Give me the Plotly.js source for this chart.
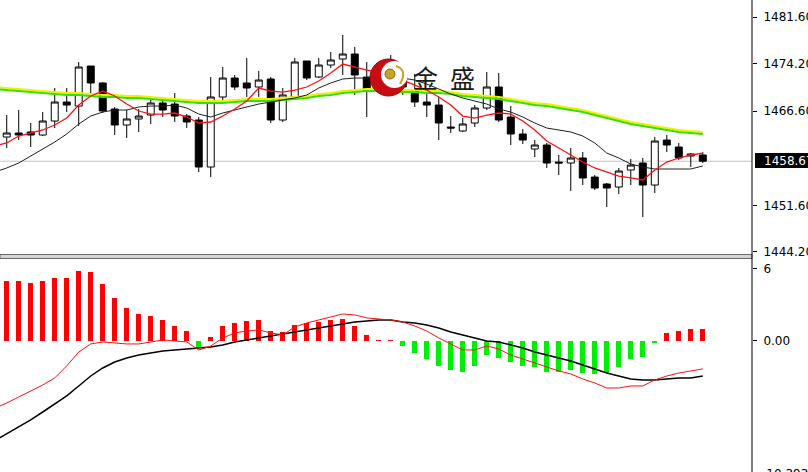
<!DOCTYPE html>
<html>
<head>
<meta charset="utf-8">
<script src="https://cdn.plot.ly/plotly-3.0.1.min.js"></script>
<style>html,body{margin:0;padding:0;background:#fff;}#chart{width:808px;height:472px;}</style>
</head>
<body>
<div id="chart"></div>
<script>
// ---- price candles ----
const open = [1462.50,1463.14,1463.30,1462.82,1465.05,1468.07,1467.43,1473.80,1471.10,1466.96,
  1464.41,1465.37,1466.00,1467.91,1467.75,1465.84,1465.21,1457.73,1468.87,1471.89,
  1471.10,1470.46,1471.73,1465.21,1468.87,1474.60,1472.05,1473.96,1474.92,1475.71,
  1472.05,1470.78,1472.85,1471.57,1469.82,1468.07,1467.59,1464.09,1463.46,1464.73,
  1467.12,1470.46,1465.68,1462.98,1460.59,1461.23,1458.52,1458.36,1459.16,1456.13,
  1455.02,1454.54,1457.25,1458.36,1454.86,1462.02,1460.91,1459.48,1459.64];
const high = [1466.00,1466.80,1464.73,1466.48,1470.30,1470.30,1474.44,1473.80,1471.25,1467.28,
  1466.80,1466.96,1468.87,1468.39,1469.50,1466.16,1465.68,1472.05,1473.64,1472.37,
  1475.07,1473.01,1472.05,1470.30,1475.07,1474.60,1475.07,1476.03,1478.74,1476.83,
  1474.44,1473.16,1475.55,1472.69,1472.53,1469.66,1468.87,1465.84,1465.52,1467.59,
  1472.85,1472.69,1467.43,1463.77,1462.02,1461.55,1459.64,1460.75,1460.11,1456.45,
  1455.18,1457.57,1459.00,1459.16,1462.50,1462.82,1461.55,1459.95,1460.11];
const low = [1460.75,1462.02,1460.91,1462.66,1463.93,1466.48,1464.25,1469.50,1466.32,1462.82,
  1462.34,1463.30,1464.57,1465.68,1464.89,1463.93,1456.93,1456.13,1467.91,1469.98,
  1468.87,1468.87,1464.73,1464.89,1468.71,1471.57,1471.89,1473.48,1472.37,1469.19,
  1465.68,1469.82,1469.98,1469.19,1467.28,1465.68,1462.02,1463.14,1463.30,1464.09,
  1466.80,1464.89,1461.23,1461.39,1459.32,1457.57,1456.45,1453.91,1454.86,1454.07,
  1451.36,1453.43,1454.86,1449.77,1453.59,1460.11,1458.84,1457.73,1458.36];
const close = [1463.14,1462.82,1462.82,1465.05,1468.07,1467.59,1473.64,1471.10,1466.64,1464.41,
  1465.37,1465.84,1467.91,1466.80,1465.84,1464.89,1457.73,1468.87,1471.89,1470.46,
  1470.30,1471.57,1465.21,1469.19,1474.44,1471.89,1473.96,1474.76,1475.71,1472.37,
  1469.98,1472.37,1471.25,1470.46,1468.07,1467.59,1464.73,1463.93,1464.57,1467.12,
  1470.46,1465.21,1462.98,1462.02,1461.23,1458.36,1458.36,1459.16,1455.98,1454.38,
  1454.38,1457.09,1458.04,1454.86,1461.86,1461.23,1459.16,1459.80,1458.65];

// ---- moving averages (first value = bar just off the left edge) ----
const maRed = [1461.10,1461.55,1462.66,1463.14,1463.62,1464.41,1465.52,1467.59,1469.03,1469.82,1469.03,
  1467.75,1466.64,1466.16,1466.16,1466.32,1465.68,1464.73,1464.89,1465.84,1466.96,
  1468.23,1470.30,1469.82,1469.66,1469.98,1470.46,1471.41,1472.69,1474.12,1473.64,
  1473.16,1472.85,1472.37,1471.57,1470.78,1469.98,1468.87,1467.59,1465.84,1465.52,
  1466.00,1466.32,1466.16,1465.05,1463.62,1461.86,1460.75,1459.64,1458.52,1457.57,
  1456.93,1456.29,1455.98,1455.66,1457.25,1458.52,1459.16,1459.64,1459.95];
const maBlack = [1456.93,1457.57,1458.36,1459.48,1460.59,1461.70,1462.98,1464.57,1465.84,1466.48,1466.80,
  1466.80,1467.28,1467.43,1467.43,1467.59,1467.12,1466.16,1465.68,1466.32,1466.80,
  1467.28,1467.75,1468.07,1468.39,1468.71,1469.19,1470.30,1471.10,1471.73,1471.89,
  1471.89,1472.05,1472.05,1471.89,1471.57,1470.94,1470.14,1469.34,1468.71,1468.23,
  1467.75,1466.96,1466.48,1465.68,1464.73,1463.93,1463.62,1463.30,1462.66,1461.55,
  1459.95,1459.16,1458.20,1457.73,1457.41,1457.41,1457.41,1457.41,1457.89];
const maGreen = [1470.14,1469.98,1469.82,1469.66,1469.50,1469.34,1469.19,1469.19,1469.03,1468.87,1468.87,
  1468.71,1468.71,1468.55,1468.39,1468.23,1468.07,1467.91,1467.91,1467.91,1468.07,
  1468.23,1468.23,1468.23,1468.39,1468.55,1468.71,1469.03,1469.19,1469.50,1469.66,
  1469.82,1469.82,1469.66,1469.66,1469.66,1469.50,1469.50,1469.34,1469.03,1468.87,
  1468.71,1468.55,1468.23,1467.91,1467.59,1467.43,1467.12,1466.80,1466.48,1466.00,
  1465.52,1465.05,1464.57,1464.25,1463.93,1463.62,1463.30,1463.14,1462.98];
const maYellow = [1470.46,1470.30,1470.14,1469.98,1469.82,1469.66,1469.51,1469.51,1469.35,1469.19,1469.19,
  1469.03,1469.03,1468.87,1468.71,1468.55,1468.39,1468.23,1468.23,1468.23,1468.39,
  1468.55,1468.55,1468.55,1468.71,1468.87,1469.03,1469.35,1469.51,1469.82,1469.98,
  1470.14,1470.14,1469.98,1469.98,1469.98,1469.82,1469.82,1469.66,1469.35,1469.19,
  1469.03,1468.87,1468.55,1468.23,1467.91,1467.75,1467.44,1467.12,1466.80,1466.32,
  1465.84,1465.37,1464.89,1464.57,1464.25,1463.94,1463.62,1463.46,1463.30];

// ---- MACD panel ----
const macdHist = [5.0,5.0,4.83,5.0,5.25,5.25,5.83,5.75,4.75,3.58,
  2.75,2.25,2.08,1.75,1.25,0.83,-0.58,0.36,1.27,1.53,
  1.67,1.75,0.83,0.72,1.33,1.47,1.61,1.75,1.83,1.28,
  0.5,0.08,0.04,-0.39,-1.03,-1.5,-2.06,-2.42,-2.56,-2.06,
  -1.17,-1.39,-1.72,-2.06,-2.14,-2.56,-2.61,-2.42,-2.69,-2.78,
  -2.69,-2.14,-1.5,-1.31,-0.19,0.64,0.83,1.0,1.0];
// first value = bar just off the left edge
const macdRed = [-5.6,-5.17,-4.67,-4.17,-3.67,-3.08,-2.08,-0.92,-0.25,-0.08,-0.17,
  -0.25,-0.25,-0.08,0.08,0,-0.08,-0.75,-0.42,0.25,0.67,
  0.83,0.92,0.67,0.5,1.17,1.5,1.75,2.0,2.25,2.17,
  1.92,1.83,1.75,1.58,1.25,0.83,0.25,-0.25,-0.75,-0.75,
  -0.42,-0.67,-1.17,-1.5,-1.83,-2.17,-2.5,-2.75,-3.17,-3.5,
  -3.92,-3.92,-3.75,-3.75,-3.25,-2.92,-2.67,-2.5,-2.33];
const macdBlack = [-8.3,-7.75,-7.17,-6.58,-5.92,-5.25,-4.58,-3.75,-2.92,-2.25,-1.75,
  -1.42,-1.17,-1.0,-0.83,-0.75,-0.67,-0.58,-0.5,-0.33,-0.08,
  0.08,0.25,0.42,0.58,0.75,0.92,1.08,1.25,1.42,1.58,
  1.67,1.75,1.75,1.58,1.5,1.33,1.08,0.75,0.5,0.25,
  0,-0.08,-0.33,-0.58,-0.92,-1.17,-1.42,-1.67,-2.0,-2.33,
  -2.67,-2.92,-3.17,-3.25,-3.25,-3.17,-3.08,-3.08,-2.92];

// ---- axis labels ----
const priceTickVals = [1481.6, 1474.2, 1466.6, 1451.6, 1444.2];
const priceTickText = ["1481.60", "1474.20", "1466.60", "1451.60", "1444.20"];
const macdTickVals = [6, 0];
const macdTickText = ["6", "0.00"];
const macdMinLabel = "-10.393";
const lastPrice = 1458.65;
const lastPriceLabel = "1458.67";
const logoChars = ["金", "盛"];

const idx = close.map((_, i) => i);
const lineIdx = [-1].concat(idx);
const W = 752, H = 472;
const px = x => x / W;
const py = y => 1 - y / H;
const FONT = "DejaVu Sans";

const traces = [
  {type: 'scatter', mode: 'lines', x: lineIdx, y: maYellow, line: {color: '#f0f000', width: 2}, xaxis: 'x', yaxis: 'y', hoverinfo: 'skip'},
  {type: 'scatter', mode: 'lines', x: lineIdx, y: maGreen, line: {color: '#33e000', width: 2}, xaxis: 'x', yaxis: 'y', hoverinfo: 'skip'},
  {type: 'candlestick', x: idx, open: open, high: high, low: low, close: close,
   increasing: {line: {color: '#000', width: 1}, fillcolor: '#fff'},
   decreasing: {line: {color: '#000', width: 1}, fillcolor: '#000'},
   whiskerwidth: 0, xaxis: 'x', yaxis: 'y', hoverinfo: 'skip'},
  {type: 'scatter', mode: 'lines', x: lineIdx, y: maBlack, line: {color: '#202020', width: 1}, xaxis: 'x', yaxis: 'y', hoverinfo: 'skip'},
  {type: 'scatter', mode: 'lines', x: lineIdx, y: maRed, line: {color: '#ff1010', width: 1.3}, xaxis: 'x', yaxis: 'y', hoverinfo: 'skip'},
  {type: 'bar', x: idx, y: macdHist, width: 0.4,
   marker: {color: macdHist.map(v => v >= 0 ? '#ff0000' : '#00ee00'), line: {width: 0}},
   xaxis: 'x', yaxis: 'y2', hoverinfo: 'skip'},
  {type: 'scatter', mode: 'lines', x: lineIdx, y: macdBlack, line: {color: '#000', width: 1.5}, xaxis: 'x', yaxis: 'y2', hoverinfo: 'skip'},
  {type: 'scatter', mode: 'lines', x: lineIdx, y: macdRed, line: {color: '#ff1010', width: 1}, xaxis: 'x', yaxis: 'y2', hoverinfo: 'skip'}
];

const yAxisCommon = {
  side: 'right', showgrid: false, zeroline: false, showline: false,
  ticks: 'outside', ticklen: 4, tickcolor: '#000', tickwidth: 1,
  tickfont: {family: FONT, size: 12, color: '#000'}, ticklabelstandoff: 4,
  fixedrange: true
};

const layout = {
  width: 808, height: 472, autosize: false,
  margin: {l: 0, r: 56, t: 0, b: 0, pad: 0},
  paper_bgcolor: '#fff', plot_bgcolor: '#fff',
  showlegend: false, boxgap: 0.17, boxgroupgap: 0.3, bargap: 0,
  xaxis: {range: [-0.56, 62.1], visible: false, rangeslider: {visible: false}, fixedrange: true},
  yaxis: Object.assign({}, yAxisCommon, {domain: [1 - 254 / H, 1], range: [1443.88, 1484.31],
    tickmode: 'array', tickvals: priceTickVals, ticktext: priceTickText}),
  yaxis2: Object.assign({}, yAxisCommon, {domain: [0, 1 - 259 / H], range: [-10.92, 6.83],
    tickmode: 'array', tickvals: macdTickVals, ticktext: macdTickText, anchor: 'x'}),
  shapes: [
    {type: 'line', xref: 'paper', yref: 'y', x0: 0, x1: 1, y0: lastPrice, y1: lastPrice,
     line: {color: '#c4c4c4', width: 1}, layer: 'below'},
    {type: 'rect', xref: 'paper', yref: 'paper', x0: 0, x1: 1, y0: py(258.5), y1: py(254.5),
     fillcolor: '#d4d4d4', line: {color: '#6a6a6a', width: 1}},
    {type: 'line', xref: 'paper', yref: 'paper', x0: 1, x1: 1, y0: 0, y1: 1,
     line: {color: '#000', width: 1}},
    // current price box
    {type: 'rect', xref: 'paper', yref: 'paper', x0: 755 / W, x1: 812 / W, y0: py(168), y1: py(153),
     fillcolor: '#000', line: {width: 0}, layer: 'above'},
    // watermark logo
    {type: 'circle', xref: 'paper', yref: 'paper', x0: px(370), x1: px(407), y0: py(96), y1: py(59),
     fillcolor: '#c80d12', line: {color: '#a00008', width: 1}, layer: 'above'},
    {type: 'circle', xref: 'paper', yref: 'paper', x0: px(381), x1: px(408), y0: py(88), y1: py(61),
     fillcolor: '#ffffff', line: {width: 0}, layer: 'above'},
    {type: 'circle', xref: 'paper', yref: 'paper', x0: px(385), x1: px(395), y0: py(79), y1: py(69),
     fillcolor: '#c9a227', line: {color: '#8a6d10', width: 1}, layer: 'above'},
    {type: 'path', xref: 'paper', yref: 'paper',
     path: `M ${px(396)},${py(66)} Q ${px(408)},${py(70)} ${px(400)},${py(84)}`,
     line: {color: '#c9a227', width: 2}, layer: 'above'}
  ],
  annotations: [
    {xref: 'paper', yref: 'y', x: 763 / W, y: lastPrice, xanchor: 'left', yanchor: 'middle',
     text: lastPriceLabel, showarrow: false, borderpad: 0,
     font: {family: FONT, size: 12, color: '#fff'}},
    {xref: 'paper', yref: 'paper', x: 760 / W, y: py(465), xanchor: 'left', yanchor: 'top',
     text: macdMinLabel, showarrow: false, font: {family: FONT, size: 12, color: '#000'}},
    {xref: 'paper', yref: 'paper', x: px(425), y: py(77), xanchor: 'center', yanchor: 'middle',
     text: logoChars[0], showarrow: false, font: {family: 'Noto Sans CJK SC', size: 25, color: '#1a1a1a'}},
    {xref: 'paper', yref: 'paper', x: px(462), y: py(77), xanchor: 'center', yanchor: 'middle',
     text: logoChars[1], showarrow: false, font: {family: 'Noto Sans CJK SC', size: 25, color: '#1a1a1a'}}
  ]
};

Plotly.newPlot('chart', traces, layout, {staticPlot: true, displayModeBar: false});
</script>
</body>
</html>
